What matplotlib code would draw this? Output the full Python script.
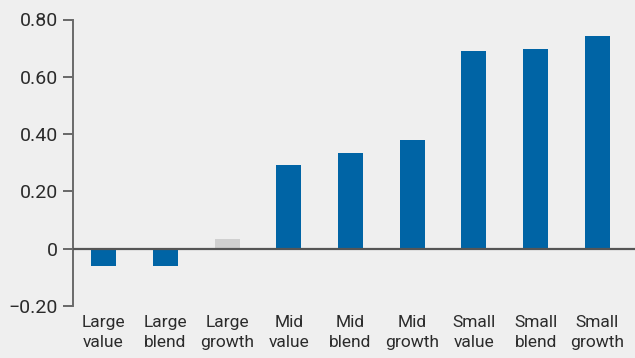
import matplotlib
matplotlib.use("Agg")
import matplotlib.pyplot as plt
from matplotlib import font_manager

categories = ["Large\nvalue", "Large\nblend", "Large\ngrowth", "Mid\nvalue", "Mid\nblend",
              "Mid\ngrowth", "Small\nvalue", "Small\nblend", "Small\ngrowth"]
values = [-0.062, -0.062, 0.035, 0.293, 0.335, 0.380, 0.690, 0.697, 0.742]
highlight = [True, True, False, True, True, True, True, True, True]
yticks = [-0.20, 0, 0.20, 0.40, 0.60, 0.80]
ytick_labels = ["\u22120.20", "0", "0.20", "0.40", "0.60", "0.80"]

names = {f.name for f in font_manager.fontManager.ttflist}
fam = [f for f in ["Liberation Sans Narrow", "Roboto", "DejaVu Sans"] if f in names]
plt.rcParams['font.family'] = fam

BG = "#efefef"
BLUE = "#0064a5"
GRAY = "#d0d0d0"
TXT = "#2b2b2b"

W, H = 635, 358
fig = plt.figure(figsize=(W/100, H/100), dpi=100, facecolor=BG)
ax = fig.add_axes([72.7/W, 1-306/H, (W-72.7)/W, (306-19.5)/H], facecolor=BG)

x = list(range(len(categories)))
colors = [BLUE if h else GRAY for h in highlight]
ax.bar(x, values, width=0.405, color=colors, zorder=2)
ax.axhline(0, color="#555555", lw=1.6, zorder=3)

ax.set_xlim(-0.5, 8.61)
ax.set_ylim(-0.2, 0.8)
ax.set_yticks(yticks)
ax.set_yticklabels(ytick_labels)
ax.set_xticks(x)
ax.set_xticklabels(categories, linespacing=1.4)

for s in ["top", "right", "bottom"]:
    ax.spines[s].set_visible(False)
ax.spines["left"].set_color("#6a6a6a")
ax.spines["left"].set_linewidth(1.4)
ax.tick_params(axis="y", length=7.2, width=1.1, color="#444444", pad=3.6,
               labelsize=14, labelcolor=TXT, direction="out")
ax.tick_params(axis="x", length=0, pad=6.5, labelsize=12.5, labelcolor=TXT)

fig.savefig("out.png", dpi=100, facecolor=BG)
